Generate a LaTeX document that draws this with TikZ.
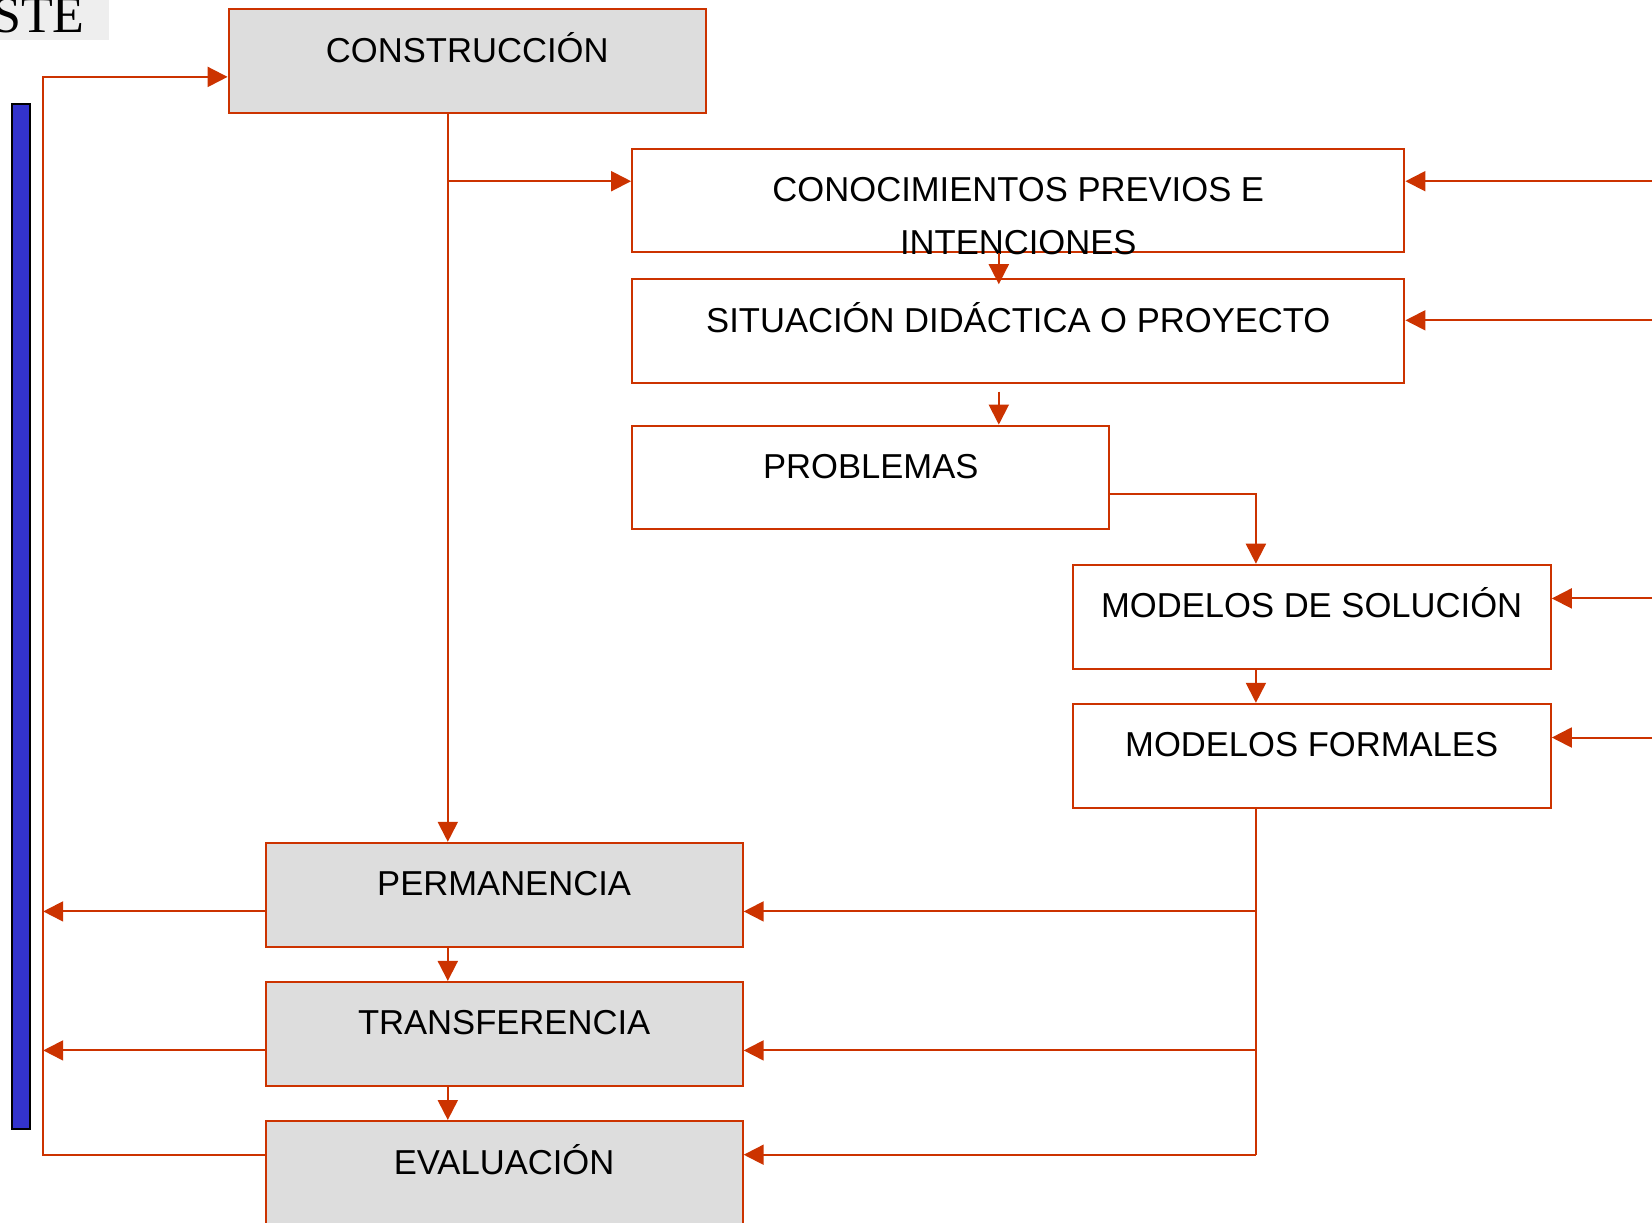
\documentclass[tikz,border=0pt]{standalone}
\usepackage{fontspec}
\setmainfont{Liberation Sans}
\newfontfamily\serifste{Liberation Serif}
\usetikzlibrary{arrows.meta,calc}
\definecolor{edge}{HTML}{CC3300}
\definecolor{boxgray}{HTML}{DDDDDD}
\definecolor{barblue}{HTML}{3333CC}
\definecolor{stegray}{HTML}{EEEEEE}
\begin{document}
\begin{tikzpicture}[x=0.5pt,y=-0.5pt,
  box/.style={draw=edge,line width=1pt,inner sep=0pt,anchor=north west},
  graybox/.style={box,fill=boxgray},
  wbox/.style={box,fill=white},
  lbl/.style={anchor=base,inner sep=0pt,text=black,font=\fontsize{17.3}{26.3}\selectfont},
  wire/.style={draw=edge,line width=1pt},
  conn/.style={wire,-{Triangle[length=10pt,width=10pt]}}]
\useasboundingbox (0,0) rectangle (1652,1222);
\fill[white] (0,0) rectangle (1652,1222);
\clip (0,0) rectangle (1652,1222);

% scanned fragment top-left
\node (stebg) [fill=stegray,minimum width=54.5pt,minimum height=20pt,anchor=north west,inner sep=0pt] at (0,0) {};
\node (ste) [anchor=base east,inner sep=0pt,font=\serifste\fontsize{26}{26}\selectfont] at (85,32) {STE};

% blue bar
\node (bar) [draw=black,fill=barblue,line width=1pt,minimum width=9pt,minimum height=512.5pt,anchor=north west,inner sep=0pt] at (10.5,103) {};

% boxes
\node (constr) [graybox,minimum width=238.65pt,minimum height=51.65pt] at (227.6,8.4) {};
\node (conoc)  [wbox,minimum width=386.15pt,minimum height=51.65pt] at (631.1,147.5) {};
\node (situ)   [wbox,minimum width=386.15pt,minimum height=51.65pt] at (631.1,278.2) {};
\node (prob)   [wbox,minimum width=238.65pt,minimum height=51.65pt] at (631.1,424.6) {};
\node (msol)   [wbox,minimum width=239.15pt,minimum height=52.15pt] at (1071.5,563.7) {};
\node (mfor)   [wbox,minimum width=239.15pt,minimum height=52.15pt] at (1071.5,702.8) {};
\node (perm)   [graybox,minimum width=238.6pt,minimum height=52.15pt] at (264.5,841.8) {};
\node (trans)  [graybox,minimum width=238.6pt,minimum height=52.15pt] at (264.5,980.9) {};
\node (eval)   [graybox,minimum width=238.6pt,minimum height=70pt] at (264.5,1120) {};

% texts
\node (tconstr) [lbl] at ($(constr.north)+(0,54)$) {CONSTRUCCIÓN};
\node (tconoc1) [lbl] at ($(conoc.north)+(0,54)$) {CONOCIMIENTOS PREVIOS E};
\node (tconoc2) [lbl] at ($(conoc.north)+(0,106.5)$) {INTENCIONES};
\node (tsitu)   [lbl] at ($(situ.north)+(0,54)$) {SITUACIÓN DIDÁCTICA O PROYECTO};
\node (tprob)   [lbl] at ($(prob.north)+(0,54)$) {PROBLEMAS};
\node (tmsol)   [lbl] at ($(msol.north)+(0,54)$) {MODELOS DE SOLUCIÓN};
\node (tmfor)   [lbl] at ($(mfor.north)+(0,54)$) {MODELOS FORMALES};
\node (tperm)   [lbl] at ($(perm.north)+(0,54)$) {PERMANENCIA};
\node (ttrans)  [lbl] at ($(trans.north)+(0,54)$) {TRANSFERENCIA};
\node (teval)   [lbl] at ($(eval.north)+(0,54)$) {EVALUACIÓN};

% helper coordinates
\coordinate (tx) at (447.8,0);
\coordinate (cx) at (998.8,0);
\coordinate (mx) at (1255.9,0);
\coordinate (lx) at (43.2,0);
\coordinate (rx) at (1652,0);
\coordinate (y0) at (0,76.9);
\coordinate (y1) at (0,181.2);
\coordinate (y2) at (0,320.3);
\coordinate (y3) at (0,494.1);
\coordinate (y4) at (0,598.4);
\coordinate (y5) at (0,737.5);
\coordinate (y6) at (0,911.4);
\coordinate (y7) at (0,1050.4);
\coordinate (y8) at (0,1154.7);

% connectors
\draw[conn] (tx |- constr.south) -- (tx |- perm.north);
\draw[conn] (tx |- y1) -- (conoc.west |- y1);
\draw[conn] (rx |- y1) -- (conoc.east |- y1);
\draw[conn] (cx |- conoc.south) -- ($(cx |- situ.north)+(0,6)$);
\draw[conn] (rx |- y2) -- (situ.east |- y2);
\draw[conn] ($(cx |- situ.south)+(0,8)$) -- (cx |- prob.north);
\draw[conn] (prob.east |- y3) -- (mx |- y3) -- (mx |- msol.north);
\draw[conn] (rx |- y4) -- (msol.east |- y4);
\draw[conn] (mx |- msol.south) -- (mx |- mfor.north);
\draw[conn] (rx |- y5) -- (mfor.east |- y5);
\draw[wire] (mx |- mfor.south) -- (mx |- y8);
\draw[conn] (mx |- y6) -- (perm.east |- y6);
\draw[conn] (mx |- y7) -- (trans.east |- y7);
\draw[conn] (mx |- y8) -- (eval.east |- y8);
\draw[conn] (tx |- perm.south) -- (tx |- trans.north);
\draw[conn] (tx |- trans.south) -- (tx |- eval.north);
\draw[conn] (perm.west |- y6) -- (lx |- y6);
\draw[conn] (trans.west |- y7) -- (lx |- y7);
\draw[conn] (eval.west |- y8) -- (lx |- y8) -- (lx |- y0) -- (constr.west |- y0);
\end{tikzpicture}
\end{document}
